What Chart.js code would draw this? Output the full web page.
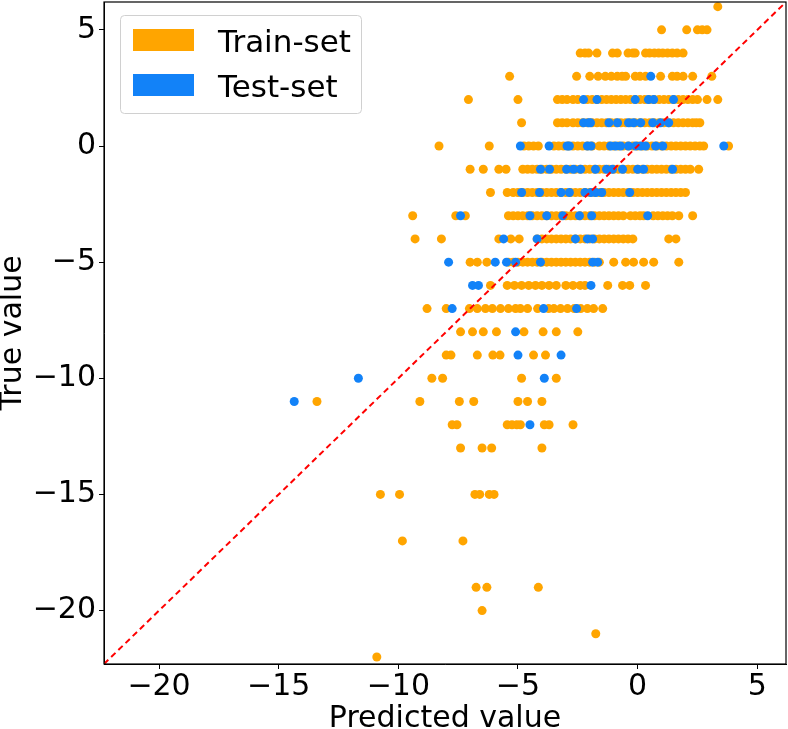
<!DOCTYPE html>
<html>
<head>
<meta charset="utf-8">
<script src="https://cdn.jsdelivr.net/npm/chart.js@4"></script>
<style>body{margin:0;background:#fff}</style>
</head>
<body>
<canvas id="myChart" width="788" height="729"></canvas>
<script>
// axis limits (same on both axes, matplotlib auto-limits)
var axisMin = -22.3;
var axisMax = 6.2;

// train-set: true values (rows) and predicted values in each row
var trainTrue = [6, 5, 4, 3, 2, 1, 0, -1, -2, -3, -4, -5, -6, -7, -8, -9, -10, -11, -12, -13, -15, -17, -19, -20, -21, -22];
var trainPred = [
  [3.35],
  [1.0, 2.05, 2.5, 2.7, 2.9],
  [-2.4, -2.2, -2.05, -1.7, -1.05, -0.85, -0.4, -0.2, -0.1, 0.33, 0.5, 0.7, 0.88, 1.05, 1.25, 1.45, 1.65, 1.9],
  [-5.35, -2.55, -2.0, -1.65, -1.35, -1.1, -0.85, -0.65, -0.5, -0.1, 0.1, 0.33, 0.96, 1.45, 1.65, 1.9, 2.3, 3.1],
  [-7.07, -5.0, -3.35, -3.15, -2.95, -2.7, -2.5, -2.1, -1.9, -1.7, -1.5, -1.3, -1.1, -0.9, -0.7, -0.5, -0.3, -0.1, 0.1, 0.3, 0.5, 0.7, 0.9, 1.1, 1.3, 1.5, 1.7, 1.9, 2.1, 2.3, 2.5, 2.9, 3.35],
  [-4.85, -3.35, -3.15, -2.95, -2.7, -2.5, -2.3, -2.1, -1.9, -1.7, -1.5, -1.3, -1.1, -0.9, -0.7, -0.5, -0.3, -0.1, 0.1, 0.3, 0.5, 0.7, 0.9, 1.1, 1.3, 1.5, 1.7, 1.9, 2.1, 2.3, 2.45, 2.6],
  [-8.3, -6.2, -4.75, -4.55, -4.35, -4.15, -3.5, -3.3, -3.1, -2.9, -2.7, -2.5, -2.3, -2.1, -1.9, -1.6, -1.4, -1.2, -1.0, -0.8, -0.6, -0.4, -0.2, 0, 0.2, 0.4, 0.6, 0.8, 1.0, 1.2, 1.4, 1.6, 1.8, 2.0, 2.2, 2.4, 2.6, 2.76, 3.8],
  [-7.0, -6.45, -5.8, -5.5, -4.8, -4.6, -4.4, -4.2, -4.0, -3.8, -3.6, -3.4, -3.2, -3.0, -2.8, -2.6, -2.4, -2.2, -2.0, -1.8, -1.6, -1.4, -1.2, -1.0, -0.8, -0.6, -0.4, -0.2, 0, 0.2, 0.4, 0.6, 0.8, 1.0, 1.2, 1.4, 1.6, 1.8, 2.0, 2.2, 2.55],
  [-6.15, -5.45, -5.2, -5.0, -4.8, -4.6, -4.4, -4.2, -4.0, -3.8, -3.6, -3.4, -3.2, -3.0, -2.8, -2.6, -2.4, -2.2, -2.0, -1.8, -1.6, -1.4, -1.2, -1.0, -0.8, -0.6, -0.4, -0.2, 0, 0.2, 0.4, 0.6, 0.8, 1.0, 1.2, 1.4, 1.6, 1.8, 2.0],
  [-9.4, -7.6, -7.2, -5.4, -5.2, -5.0, -4.8, -4.6, -4.4, -4.2, -4.0, -3.8, -3.6, -3.4, -3.2, -3.0, -2.8, -2.6, -2.4, -2.2, -2.0, -1.8, -1.6, -1.4, -1.2, -1.0, -0.8, -0.6, -0.3, -0.1, 0.1, 0.25, 0.65, 0.85, 1.05, 1.25, 1.45, 1.72, 2.3],
  [-9.3, -8.2, -5.8, -5.3, -4.95, -4.2, -4.0, -3.8, -3.6, -3.4, -3.2, -3.0, -2.8, -2.6, -2.4, -2.2, -2.0, -1.8, -1.6, -1.4, -1.2, -1.0, -0.8, -0.6, -0.4, -0.2, 1.3, 1.6],
  [-7.0, -6.7, -6.3, -5.4, -5.2, -5.0, -4.8, -4.6, -4.4, -4.2, -4.0, -3.8, -3.6, -3.4, -3.2, -3.0, -2.8, -2.6, -2.4, -2.2, -2.0, -1.8, -1.6, -1.0, -0.5, -0.17, 0.25, 0.67, 1.72],
  [-6.15, -5.45, -5.15, -4.85, -4.55, -4.27, -4.0, -3.7, -3.4, -3.0, -2.7, -2.4, -2.2, -1.25, -0.63, -0.33, 0.33],
  [-8.8, -8.0, -7.03, -6.7, -6.36, -6.07, -5.73, -5.4, -5.1, -4.9, -4.6, -4.18, -3.72, -3.5, -3.22, -2.93, -2.65, -2.38, -2.1, -1.84, -1.46],
  [-7.4, -6.9, -6.45, -5.9, -4.75, -3.95, -3.4, -2.5],
  [-8.0, -7.8, -6.7, -6.05, -5.75, -4.35, -3.85],
  [-8.6, -8.15, -4.85, -3.4],
  [-13.4, -9.1, -7.45, -6.85, -5.0, -4.6, -4.0],
  [-7.75, -7.55, -5.45, -5.25, -5.05, -4.9, -3.9, -3.7, -2.7],
  [-7.4, -6.5, -6.1, -4.0],
  [-10.75, -9.95, -6.8, -6.6, -6.2, -6.0],
  [-9.83, -7.3],
  [-6.75, -6.3, -4.15],
  [-6.5],
  [-1.75],
  [-10.9]
];

// test-set
var testTrue = [3, 2, 1, 0, -1, -2, -3, -4, -5, -6, -7, -8, -9, -10, -11, -12];
var testPred = [
  [0.55],
  [-2.26, -1.7, -0.1, 0.45, 0.67, 1.5],
  [-2.26, -2.05, -1.97, -1.2, -0.84, -0.38, -0.17, 0.13, 0.63, 0.96, 1.3],
  [-4.9, -3.7, -2.95, -2.85, -2.1, -1.95, -1.13, -0.92, -0.71, -0.38, -0.08, 0.13, 0.33, 0.75, 1.05, 3.6],
  [-4.06, -3.68, -2.97, -2.68, -2.38, -1.76, -1.3, -1.05, -0.63, 0, 0.25, 1.46],
  [-4.85, -4.1, -3.2, -2.85, -2.2, -1.95, -1.75, -1.5, -0.33],
  [-7.4, -4.5, -3.8, -3.13, -2.43, -1.92, 0.42],
  [-5.6, -4.2, -2.6, -2.1, -1.88],
  [-7.9, -5.95, -5.48, -5.1, -4.06, -1.88, -1.67],
  [-6.9, -6.65, -1.95],
  [-7.75, -3.93, -2.55],
  [-5.1],
  [-5.0, -3.2],
  [-11.67, -3.9],
  [-14.35],
  [-4.5]
];

var trainColor = '#ffa500';
var testColor = '#1282f8';
var fontFamily = '"DejaVu Sans", sans-serif';

function toPoints(trues, preds) {
  var pts = [];
  trues.forEach(function (t, i) {
    preds[i].forEach(function (p) { pts.push({x: p, y: t}); });
  });
  return pts;
}

function fmt(v) {
  return v < 0 ? '\u2212' + Math.abs(v) : '' + v;
}

// no extra room for half tick labels, matplotlib doesn't do that
function noPad(s) {
  s.paddingTop = 0;
  s.paddingBottom = 0;
  s.paddingLeft = 0;
  s.paddingRight = 0;
}

// frame round the plot, like matplotlib spines
var framePlugin = {
  id: 'frame',
  afterDatasetsDraw: function (chart) {
    var a = chart.chartArea, ctx = chart.ctx;
    ctx.save();
    ctx.strokeStyle = '#000';
    ctx.lineWidth = 1.2;
    ctx.strokeRect(a.left, a.top, a.right - a.left, a.bottom - a.top);
    ctx.restore();
  }
};

// legend inside the plot, upper left
var legendPlugin = {
  id: 'insideLegend',
  afterDraw: function (chart) {
    var ctx = chart.ctx, a = chart.chartArea;
    var items = chart.data.datasets.filter(function (d) { return d.inLegend; })
      .sort(function (p, q) { return p.legendIndex - q.legendIndex; });
    var x = a.left + 16, y = a.top + 13, w = 241, h = 98;
    ctx.save();
    ctx.fillStyle = 'rgba(255,255,255,0.8)';
    ctx.strokeStyle = '#d0d0d0';
    ctx.lineWidth = 1;
    ctx.beginPath();
    ctx.roundRect(x + 0.5, y + 0.5, w, h, 4);
    ctx.fill();
    ctx.stroke();
    ctx.font = '31px ' + fontFamily;
    ctx.textBaseline = 'alphabetic';
    items.forEach(function (d, i) {
      var top = y + 14 + i * 45;
      ctx.fillStyle = d.backgroundColor;
      ctx.fillRect(x + 13, top, 61, 22);
      ctx.fillStyle = '#000';
      ctx.fillText(d.label, x + 98, top + 23);
    });
    ctx.restore();
  }
};

var tickFont = {family: fontFamily, size: 30};
var titleFont = {family: fontFamily, size: 30, lineHeight: 1};

var ctx = document.getElementById('myChart').getContext('2d');
var myChart = new Chart(ctx, {
  type: 'scatter',
  data: {
    datasets: [
      {
        type: 'line',
        label: 'y = x',
        data: [{x: axisMin, y: axisMin}, {x: axisMax, y: axisMax}],
        borderColor: '#ff0000',
        borderWidth: 2,
        borderDash: [6, 4],
        pointRadius: 0,
        fill: false
      },
      {
        label: 'Test-set',
        data: toPoints(testTrue, testPred),
        backgroundColor: testColor,
        borderWidth: 0,
        pointRadius: 4.5,
        inLegend: true,
        legendIndex: 1
      },
      {
        label: 'Train-set',
        data: toPoints(trainTrue, trainPred),
        backgroundColor: trainColor,
        borderWidth: 0,
        pointRadius: 4.5,
        inLegend: true,
        legendIndex: 0
      }
    ]
  },
  options: {
    responsive: false,
    animation: false,
    layout: {autoPadding: false, padding: {top: 2, right: 2, left: 0, bottom: 0}},
    plugins: {legend: {display: false}, tooltip: {enabled: false}},
    scales: {
      x: {
        type: 'linear',
        min: axisMin,
        max: axisMax,
        ticks: {stepSize: 5, includeBounds: false, font: tickFont, color: '#000', padding: 0, callback: fmt, maxRotation: 0},
        grid: {drawOnChartArea: false, tickLength: 5, tickColor: '#000'},
        border: {color: '#000'},
        title: {display: true, text: 'Predicted value', font: titleFont, color: '#000', padding: {top: 0, bottom: -5}},
        afterFit: function (s) { s.height = 65; noPad(s); }
      },
      y: {
        type: 'linear',
        min: axisMin,
        max: axisMax,
        ticks: {stepSize: 5, includeBounds: false, font: tickFont, color: '#000', padding: 3, callback: fmt},
        grid: {drawOnChartArea: false, tickLength: 5, tickColor: '#000'},
        border: {color: '#000'},
        title: {display: true, text: 'True value', font: titleFont, color: '#000', padding: {top: -2, bottom: 0}},
        afterFit: function (s) { s.width = 104; noPad(s); }
      }
    }
  },
  plugins: [framePlugin, legendPlugin]
});
</script>
</body>
</html>
